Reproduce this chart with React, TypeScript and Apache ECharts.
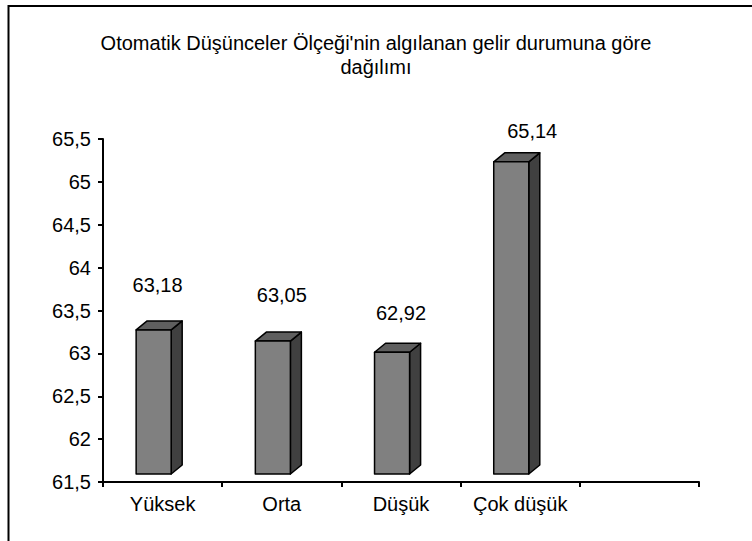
import React, { useEffect, useRef } from "react";
import * as echarts from "echarts";

const TITLE = "Otomatik Düşünceler Ölçeği'nin algılanan gelir durumuna göre\ndağılımı";
const categories = ["Yüksek", "Orta", "Düşük", "Çok düşük", ""];
const values = [63.18, 63.05, 62.92, 65.14];
const yMin = 61.5;
const yMax = 65.5;
const yStep = 0.5;

// layout-only nudges for data labels (px), not data
const LABEL_NUDGE: number[][] = [
  [-5, -53],
  [0, -54],
  [0, -47],
  [12, -39],
];

const FONT = '"Liberation Sans", Arial, sans-serif';
const fmt = (v: number) => String(v).replace(".", ",");

export default function App() {
  const ref = useRef<HTMLDivElement>(null);
  useEffect(() => {
    document.body.style.margin = "0";
    if (!ref.current) return;
    const chart = echarts.init(ref.current, undefined, { renderer: "svg" });
    const option: any = {
      animation: false,
      backgroundColor: "#ffffff",
      title: {
        text: TITLE,
        left: "center",
        top: 26,
        textStyle: {
          fontFamily: FONT,
          fontSize: 20,
          fontWeight: "normal",
          color: "#000",
          lineHeight: 24,
        },
      },
      graphic: [
        {
          type: "rect",
          shape: { x: 8.5, y: 6, width: 900, height: 900 },
          style: { fill: "none", stroke: "#000", lineWidth: 2 },
          silent: true,
          z: 100,
        },
      ],
      grid: { left: 103, right: 53, top: 139, bottom: 59, containLabel: false },
      xAxis: {
        type: "category",
        data: categories,
        boundaryGap: true,
        axisLine: { lineStyle: { color: "#000", width: 2 } },
        axisTick: { show: true, length: 5, lineStyle: { color: "#000", width: 2 } },
        axisLabel: { color: "#000", fontSize: 20, fontFamily: FONT, margin: 12, interval: 0 },
        splitLine: { show: false },
      },
      yAxis: {
        type: "value",
        min: yMin,
        max: yMax,
        interval: yStep,
        axisLine: { show: true, lineStyle: { color: "#000", width: 2 } },
        axisTick: { show: true, length: 5, lineStyle: { color: "#000", width: 2 } },
        axisLabel: {
          color: "#000",
          fontSize: 20,
          fontFamily: FONT,
          margin: 12,
          formatter: (v: number) => fmt(v),
        },
        splitLine: { show: false },
      },
      series: [
        {
          type: "custom",
          data: values.map((v, i) => [i, v]),
          renderItem: (params: any, api: any) => {
            const i = api.value(0);
            const v = api.value(1);
            const base = api.coord([i, yMin]);
            const top = api.coord([i, v]);
            const cw = api.size([1, 0])[0];
            const cx = base[0];
            const lift = 8;
            const dx = 11;
            const dy = 9;
            const w = cw * 0.294;
            const x1 = cx - cw * 0.222;
            const x2 = x1 + w;
            const yb = base[1] - lift;
            const yt = top[1] - lift;
            const stroke = { stroke: "#000", lineWidth: 1.5, lineJoin: "round" };
            const nudge = LABEL_NUDGE[params.dataIndex] || [0, -50];
            return {
              type: "group",
              children: [
                {
                  type: "polygon",
                  shape: { points: [[x2, yt], [x2 + dx, yt - dy], [x2 + dx, yb - dy], [x2, yb]] },
                  style: { fill: "#404040", ...stroke },
                },
                {
                  type: "polygon",
                  shape: { points: [[x1, yt], [x1 + dx, yt - dy], [x2 + dx, yt - dy], [x2, yt]] },
                  style: { fill: "#5f5f5f", ...stroke },
                },
                {
                  type: "rect",
                  shape: { x: x1, y: yt, width: w, height: yb - yt },
                  style: { fill: "#808080", ...stroke },
                },
                {
                  type: "text",
                  x: cx + nudge[0],
                  y: top[1] + nudge[1],
                  style: {
                    text: fmt(v),
                    fill: "#000",
                    fontSize: 20,
                    fontFamily: FONT,
                    align: "center",
                    verticalAlign: "middle",
                  },
                },
              ],
            };
          },
        },
      ],
    };
    chart.setOption(option);
    return () => chart.dispose();
  }, []);
  return <div ref={ref} style={{ width: 752, height: 541 }} />;
}
